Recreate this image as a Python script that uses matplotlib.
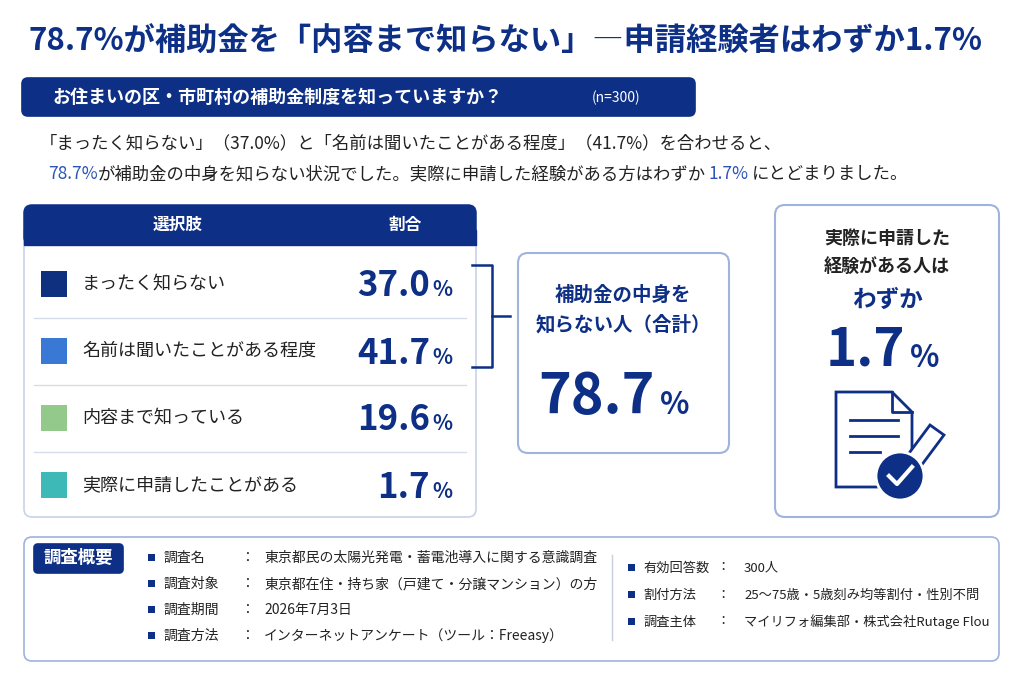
import matplotlib
matplotlib.use("Agg")
import matplotlib.pyplot as plt
from matplotlib.patches import FancyBboxPatch, Rectangle, Circle, Polygon

plt.rcParams['font.family'] = ['Noto Sans CJK JP', 'DejaVu Sans']

NAVY = '#0d2f86'
labels = ['まったく知らない', '名前は聞いたことがある程度', '内容まで知っている', '実際に申請したことがある']
values = [37.0, 41.7, 19.6, 1.7]
colors = ['#0f2f7f', '#3a78d6', '#93c98a', '#3dbab8']
total_unknown = values[0] + values[1]
applied = values[3]

survey_left = [('調査名', '東京都民の太陽光発電・蓄電池導入に関する意識調査'),
               ('調査対象', '東京都在住・持ち家（戸建て・分譲マンション）の方'),
               ('調査期間', '2026年7月3日'),
               ('調査方法', 'インターネットアンケート（ツール：Freeasy）')]
survey_right = [('有効回答数', '300人'),
                ('割付方法', '25〜75歳・5歳刻み均等割付・性別不問'),
                ('調査主体', 'マイリフォ編集部・株式会社Rutage Flou')]

fig = plt.figure(figsize=(10.24, 6.83), dpi=100)
ax = fig.add_axes([0, 0, 1, 1])
ax.set_xlim(0, 1024)
ax.set_ylim(683, 0)
ax.axis('off')

def rbox(x, y, w, h, fc='white', ec='#c8d3ea', lw=1.2, r=8, z=1):
    ax.add_patch(FancyBboxPatch((x, y), w, h, boxstyle=f"round,pad=0,rounding_size={r}",
                                fc=fc, ec=ec, lw=lw, zorder=z))

# title
ax.text(28, 42, f'{total_unknown:.1f}%が補助金を「内容まで知らない」―申請経験者はわずか{applied}%',
        fontsize=22.5, fontweight='bold', color=NAVY, va='center', ha='left')

# question banner
rbox(22, 78, 673, 38, fc=NAVY, ec=NAVY, r=6)
ax.text(52, 97, 'お住まいの区・市町村の補助金制度を知っていますか？', fontsize=13, fontweight='bold',
        color='white', va='center')
ax.text(592, 98, '(n=300)', fontsize=10, color='white', va='center')

# summary text
ax.text(40, 143, f'「{labels[0]}」（{values[0]}%）と「{labels[1]}」（{values[1]}%）を合わせると、',
        fontsize=12.5, color='#222222', va='center')
ax.text(48, 174, f'{total_unknown:.1f}%', fontsize=12.5, color='#2a55b8', va='center')
ax.text(98, 174, 'が補助金の中身を知らない状況でした。実際に申請した経験がある方はわずか', fontsize=12.5,
        color='#222222', va='center')
ax.text(709, 174, f'{applied}%', fontsize=12.5, color='#2a55b8', va='center')
ax.text(752, 174, 'にとどまりました。', fontsize=12.5, color='#222222', va='center')

# table
rbox(24, 205, 452, 312, ec='#c8d3ea', r=8)
ax.add_patch(FancyBboxPatch((24, 205), 452, 40, boxstyle="round,pad=0,rounding_size=8",
                            fc=NAVY, ec=NAVY, zorder=2))
ax.add_patch(Rectangle((24, 230), 452, 15, fc=NAVY, ec=NAVY, zorder=2))
ax.text(178, 225, '選択肢', fontsize=12, color='white', fontweight='bold', ha='center', va='center', zorder=3)
ax.text(405, 225, '割合', fontsize=12, color='white', fontweight='bold', ha='center', va='center', zorder=3)
row_h = 67
for i, (lab, v, c) in enumerate(zip(labels, values, colors)):
    cy = 284 + i * row_h
    ax.add_patch(Rectangle((41, cy - 13), 26, 26, fc=c, ec='none', zorder=3))
    ax.text(82, cy, lab, fontsize=13, color='#222222', va='center', zorder=3)
    ax.text(430, cy + 2, f'{v:.1f}', fontsize=25, fontweight='bold', color=NAVY, ha='right', va='center', zorder=3)
    ax.text(432, cy + 6, '%', fontsize=15, fontweight='bold', color=NAVY, ha='left', va='center', zorder=3)
    if i < len(labels) - 1:
        ax.plot([34, 466], [cy + row_h / 2, cy + row_h / 2], color='#d5dcea', lw=1, zorder=3)

# bracket
ax.plot([472, 492, 492, 472], [265, 265, 367, 367], color=NAVY, lw=1.8)
ax.plot([492, 510], [316, 316], color=NAVY, lw=1.8)

# total box
rbox(518, 253, 211, 200, ec='#9fb3dd', lw=1.5, r=10)
ax.text(623, 295, '補助金の中身を', fontsize=14, fontweight='bold', color=NAVY, ha='center', va='center')
ax.text(623, 325, '知らない人（合計）', fontsize=14, fontweight='bold', color=NAVY, ha='center', va='center')
ax.text(655, 397, f'{total_unknown:.1f}', fontsize=40, fontweight='bold', color=NAVY, ha='right', va='center')
ax.text(660, 405, '%', fontsize=22, fontweight='bold', color=NAVY, ha='left', va='center')

# applied box
rbox(775, 205, 224, 312, ec='#9fb3dd', lw=1.5, r=10)
ax.text(887, 238, '実際に申請した', fontsize=13, fontweight='bold', color='#222222', ha='center', va='center')
ax.text(887, 266, '経験がある人は', fontsize=13, fontweight='bold', color='#222222', ha='center', va='center')
ax.text(887, 300, 'わずか', fontsize=17, fontweight='bold', color=NAVY, ha='center', va='center')
ax.text(905, 350, f'{applied}', fontsize=38, fontweight='bold', color=NAVY, ha='right', va='center')
ax.text(910, 358, '%', fontsize=22, fontweight='bold', color=NAVY, ha='left', va='center')
# document icon
ax.add_patch(Polygon([(836, 392), (892, 392), (912, 412), (912, 487), (836, 487)], closed=True,
                     fc='white', ec=NAVY, lw=2, zorder=3))
ax.plot([892, 892, 912], [392, 412, 412], color=NAVY, lw=2, zorder=4)
for yy, x2 in [(420, 898), (436, 898), (452, 880)]:
    ax.plot([850, x2], [yy, yy], color=NAVY, lw=2, zorder=4)
ax.add_patch(Polygon([(930, 425), (944, 435), (912, 478), (898, 468)], closed=True, fc='white', ec=NAVY, lw=2, zorder=4))
ax.add_patch(Circle((900, 476), 24, fc=NAVY, ec='white', lw=2, zorder=5))
ax.plot([889, 897, 912], [476, 484, 467], color='white', lw=3, zorder=6)

# survey box
rbox(24, 537, 975, 124, ec='#9fb3dd', lw=1.2, r=8)
rbox(34, 544, 89, 29, fc=NAVY, ec=NAVY, r=4)
ax.text(78, 558, '調査概要', fontsize=12.5, fontweight='bold', color='white', ha='center', va='center')
for i, (k, v) in enumerate(survey_left):
    y = 558 + i * 26
    ax.add_patch(Rectangle((148, y - 4), 7, 7, fc=NAVY, ec='none'))
    ax.text(164, y, k, fontsize=10, color='#222222', va='center')
    ax.text(240, y, '：', fontsize=10, color='#222222', va='center')
    ax.text(264, y, v, fontsize=10, color='#222222', va='center')
ax.plot([612, 612], [555, 640], color='#c8cfdc', lw=1)
for i, (k, v) in enumerate(survey_right):
    y = 568 + i * 27
    ax.add_patch(Rectangle((628, y - 4), 7, 7, fc=NAVY, ec='none'))
    ax.text(643, y, k, fontsize=9.5, color='#222222', va='center')
    ax.text(716, y, '：', fontsize=9.5, color='#222222', va='center')
    ax.text(744, y, v, fontsize=9.5, color='#222222', va='center')

fig.savefig('out.png', dpi=100, facecolor='white')
